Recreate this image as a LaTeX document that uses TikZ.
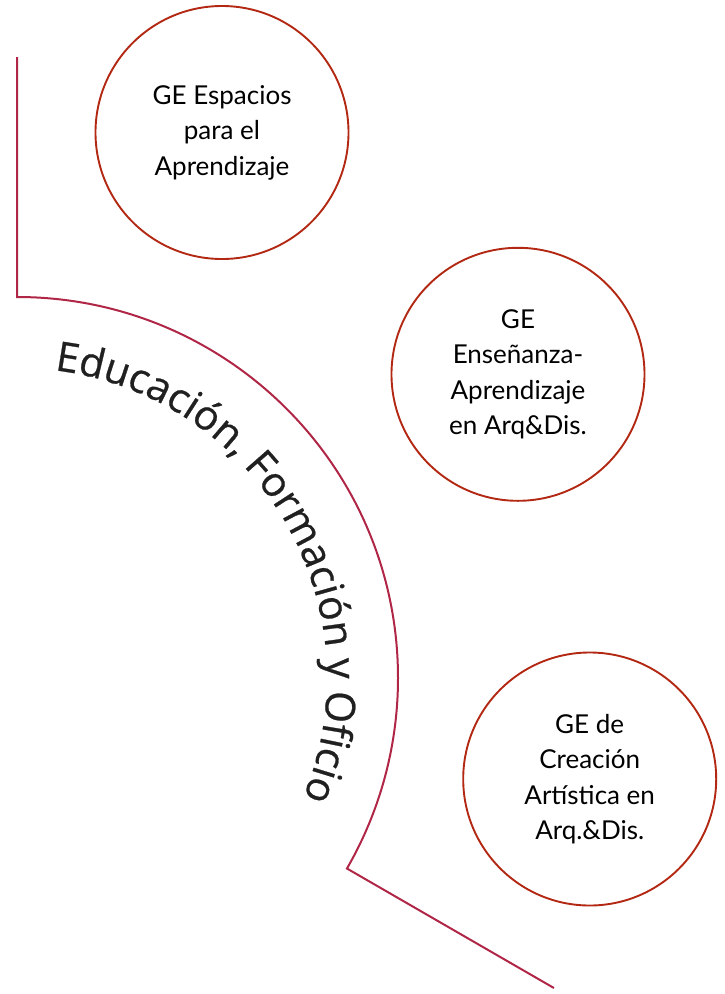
\documentclass[tikz,border=0pt]{standalone}
\usepackage{fontspec}
\usetikzlibrary{decorations.text,calc}
\newfontfamily\arcfont[FakeBold=0.6]{Open Sans}
\newfontfamily\circfont{Lato}
\definecolor{circred}{RGB}{178,40,18}
\definecolor{arcred}{RGB}{176,38,70}
\definecolor{arcgray}{RGB}{32,32,32}
\tikzset{
  gecircle/.style={circle, draw=circred, line width=1.9pt, minimum size=253pt, inner sep=0pt,
    align=center, text=black, font=\circfont\fontsize{26}{35.5}\selectfont},
  frameline/.style={draw=arcred, line width=2pt}
}
\begin{document}
\begin{tikzpicture}[x=1pt,y=1pt]
\useasboundingbox (0,0) rectangle (725,-994);
% frame: vertical line, arc, radial line
\coordinate (ctr) at (17,-678);
\coordinate (vtop) at (17,-57);
\coordinate (arcstart) at (17,-297);
\coordinate (arcend) at ($(ctr)+(-30:381)$);
\coordinate (ltail) at ($(ctr)+(-30:620)$);
\path[frameline] (vtop) -- (arcstart) arc[start angle=90, end angle=-30, radius=381] -- (ltail);
% curved title
\path[decorate, decoration={text along path, text align=center,
  text={|\arcfont\fontsize{41}{41}\selectfont\color{arcgray}|Educación, Formación y Oficio}}]
  ($(ctr)+(110:310)$) arc[start angle=110, end angle=-49.6, radius=310];
% circles
\node[gecircle] (c1) at (222,-132.5) {GE Espacios\\para el\\Aprendizaje};
\node[gecircle] (c2) at (518,-374.3) {GE\\Enseñanza-\\Aprendizaje\\en Arq\&Dis.};
\node[gecircle] (c3) at (589.7,-779) {GE de\\Creación\\Artística en\\Arq.\&Dis.};
\end{tikzpicture}
\end{document}
